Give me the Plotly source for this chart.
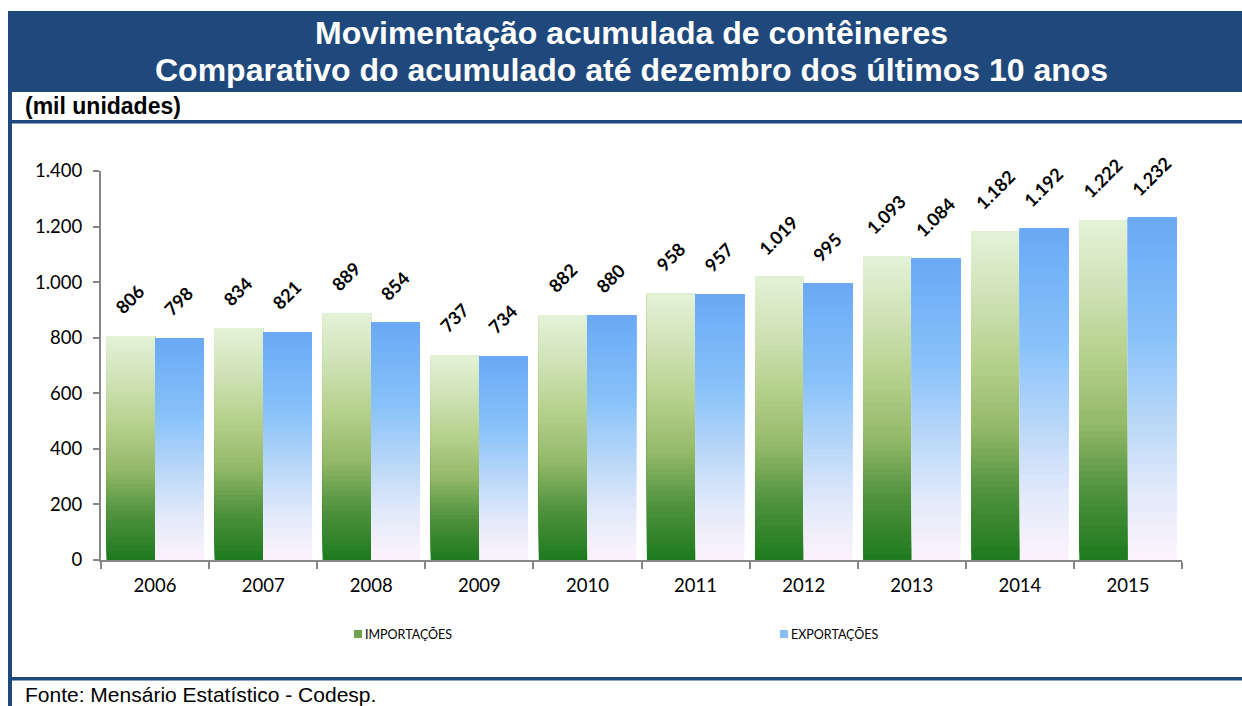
import plotly.graph_objects as go
import numpy as np

years = ["2006", "2007", "2008", "2009", "2010", "2011", "2012", "2013", "2014", "2015"]
importacoes = [806, 834, 889, 737, 882, 958, 1019, 1093, 1182, 1222]
exportacoes = [798, 821, 854, 734, 880, 957, 995, 1084, 1192, 1232]

title_line1 = "Movimentação acumulada de contêineres"
title_line2 = "Comparativo do acumulado até dezembro dos últimos 10 anos"
unit_label = "(mil unidades)"
source_label = "Fonte: Mensário Estatístico - Codesp."

W, H = 1242, 706
# plot area in screen pixels
SL, SR, ST, SB = 101, 1182, 171, 560


def px(x):  # screen x -> paper
    return (x - SL) / (SR - SL)


def py(y):  # screen y -> paper
    return (SB - y) / (SB - ST)


def hex2rgb(h):
    h = h.lstrip("#")
    return np.array([int(h[i:i + 2], 16) for i in (0, 2, 4)], dtype=float)


def grad(stops, t):
    for (t0, c0), (t1, c1) in zip(stops[:-1], stops[1:]):
        if t0 <= t <= t1:
            f = (t - t0) / (t1 - t0) if t1 > t0 else 0
            c = hex2rgb(c0) * (1 - f) + hex2rgb(c1) * f
            return "rgb(%d,%d,%d)" % tuple(np.round(c))
    return stops[-1][1]


imp_stops = [(0.0, "#1E7A1E"), (0.2, "#4E913C"), (0.4, "#93B968"),
             (0.6, "#B6D08C"), (0.8, "#CFE2B6"), (1.0, "#E4F2D8")]
exp_stops = [(0.0, "#FCF4FC"), (0.2, "#E2E9FA"), (0.4, "#BAD8F8"),
             (0.65, "#88C2FA"), (1.0, "#6AA8F5")]

N = 50
BW = 0.45
fig = go.Figure()
for name, vals, stops, off in [("IMPORTAÇÕES", importacoes, imp_stops, -BW),
                               ("EXPORTAÇÕES", exportacoes, exp_stops, 0.0)]:
    v = np.array(vals, dtype=float)
    for k in range(N):
        # each layer runs from its own base to the top of the bar, so the
        # next layer covers it and no seams show
        fig.add_trace(go.Bar(
            x=years, y=v * (N - k) / N, base=v * k / N,
            offset=off, width=BW,
            marker=dict(color=grad(stops, (k + 0.5) / N), line=dict(width=0)),
            name=name, showlegend=False,
            hoverinfo="skip",
        ))

annotations = []
for i, (a, b) in enumerate(zip(importacoes, exportacoes)):
    for val, dx in [(a, -BW / 2), (b, BW / 2)]:
        txt = f"{val:,}".replace(",", ".")
        annotations.append(dict(
            x=i + dx, y=val, xref="x", yref="y",
            text="<b>" + txt + "</b>",
            textangle=-45, showarrow=False, xanchor="center", yanchor="middle",
            yshift=37 if len(txt) <= 3 else 42, xshift=-1,
            font=dict(family="Lato", size=18, color="black"),
        ))

cx = (631 - (SL + SR) / 2)
annotations += [
    dict(x=0.5, y=py(33), xref="paper", yref="paper", text="<b>" + title_line1 + "</b>",
         showarrow=False, xanchor="center", yanchor="middle",
         font=dict(family="Liberation Sans", size=32, color="white"), xshift=cx),
    dict(x=0.5, y=py(70), xref="paper", yref="paper", text="<b>" + title_line2 + "</b>",
         showarrow=False, xanchor="center", yanchor="middle",
         font=dict(family="Liberation Sans", size=32, color="white"), xshift=cx),
    dict(x=px(23), y=py(106), xref="paper", yref="paper", text="<b>" + unit_label + "</b>",
         showarrow=False, xanchor="left", yanchor="middle",
         font=dict(family="Liberation Sans", size=23, color="black")),
    dict(x=px(23), y=py(694), xref="paper", yref="paper", text=source_label,
         showarrow=False, xanchor="left", yanchor="middle",
         font=dict(family="Liberation Sans", size=21, color="black")),
    dict(x=px(363), y=py(634), xref="paper", yref="paper", text="IMPORTAÇÕES",
         showarrow=False, xanchor="left", yanchor="middle",
         font=dict(family="Lato", size=12.5, color="black")),
    dict(x=px(789), y=py(634), xref="paper", yref="paper", text="EXPORTAÇÕES",
         showarrow=False, xanchor="left", yanchor="middle",
         font=dict(family="Lato", size=12.5, color="black")),
]

navy = "#1F497D"
shapes = [
    dict(type="rect", xref="paper", yref="paper", x0=px(8), x1=px(1250), y0=py(11), y1=py(92),
         fillcolor=navy, line=dict(width=0), layer="below"),
    dict(type="rect", xref="paper", yref="paper", x0=px(8), x1=px(1250), y0=py(120), y1=py(123.5),
         fillcolor=navy, line=dict(width=0)),
    dict(type="rect", xref="paper", yref="paper", x0=px(8), x1=px(12), y0=py(92), y1=py(712),
         fillcolor=navy, line=dict(width=0)),
    dict(type="rect", xref="paper", yref="paper", x0=px(8), x1=px(1250), y0=py(677), y1=py(680.5),
         fillcolor=navy, line=dict(width=0)),
    dict(type="rect", xref="paper", yref="paper", x0=px(354), x1=px(362), y0=py(630), y1=py(638),
         fillcolor="#6FA34E", line=dict(width=0)),
    dict(type="rect", xref="paper", yref="paper", x0=px(780), x1=px(788), y0=py(630), y1=py(638),
         fillcolor="#86BEF8", line=dict(width=0)),
]

fig.update_layout(
    width=W, height=H,
    margin=dict(l=SL, r=W - SR, t=ST, b=H - SB, pad=0),
    paper_bgcolor="white", plot_bgcolor="white",
    barmode="overlay", bargap=0.1,
    separators=",.",
    showlegend=False,
    annotations=annotations, shapes=shapes,
    xaxis=dict(type="category", range=[-0.5, 9.5], showline=True, linecolor="#868686", linewidth=2,
               ticks="outside", tickson="boundaries", ticklen=7, tickcolor="#868686", tickwidth=2,
               ticklabelstandoff=8,
               showgrid=False, tickfont=dict(family="Lato", size=18.5, color="black"), fixedrange=True),
    yaxis=dict(range=[0, 1400], tickvals=[0, 200, 400, 600, 800, 1000, 1200, 1400], tickformat=",d",
               showline=True, linecolor="#868686", linewidth=2, ticks="outside", ticklen=6,
               tickcolor="#868686", tickwidth=2, showgrid=False, zeroline=False,
               ticklabelstandoff=7,
               tickfont=dict(family="Lato", size=18.5, color="black"), fixedrange=True),
)

fig.write_html(
    "out.html",
    config={"displayModeBar": False},
    post_script="document.body.style.margin='0';document.body.style.overflow='hidden';",
)
